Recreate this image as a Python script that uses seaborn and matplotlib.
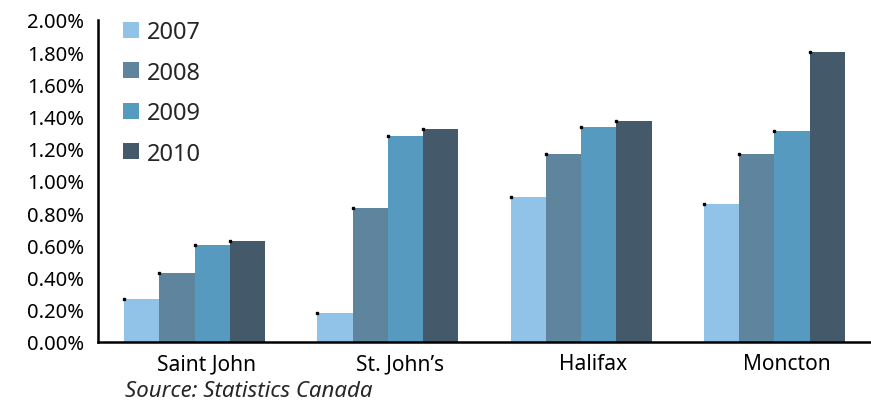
import matplotlib
matplotlib.use("Agg")
import matplotlib.pyplot as plt
import matplotlib.transforms as mtransforms
import seaborn as sns
import pandas as pd
from matplotlib.ticker import FuncFormatter, FixedLocator

cities = ["Saint John", "St. John\u2019s", "Halifax", "Moncton"]
years = ["2007", "2008", "2009", "2010"]
rate_2007 = [0.27, 0.18, 0.90, 0.855]
rate_2008 = [0.43, 0.83, 1.17, 1.17]
rate_2009 = [0.60, 1.28, 1.335, 1.31]
rate_2010 = [0.625, 1.32, 1.37, 1.80]
source_note = "Source: Statistics Canada"

colors = ["#91c3e8", "#5e849e", "#569abf", "#445a6b"]

rows = []
for yr, vals in zip(years, [rate_2007, rate_2008, rate_2009, rate_2010]):
    for c, v in zip(cities, vals):
        rows.append({"city": c, "year": yr, "rate": v})
df = pd.DataFrame(rows)

sns.set_style("white")
plt.rcParams["font.family"] = ["Noto Sans", "DejaVu Sans"]

W, H = 871, 402
fig = plt.figure(figsize=(W / 100, H / 100), dpi=100)
ax = fig.add_axes([98 / W, 59 / H, 773 / W, 322 / H])

sns.barplot(data=df, x="city", y="rate", hue="year", order=cities,
            hue_order=years, palette=colors, width=0.73, saturation=1,
            linewidth=0, ax=ax)

# small black marks at the top-left corner of each bar
for p in ax.patches:
    if p.get_height() > 0:
        ax.plot(p.get_x(), p.get_y() + p.get_height(), marker="s",
                ms=1.8, color="black", lw=0, clip_on=False, zorder=5)

ax.set_ylim(0, 2.0)
ax.set_xlim(-0.5, 3.5)
ax.yaxis.set_major_locator(FixedLocator([i * 0.2 for i in range(11)]))
ax.yaxis.set_major_formatter(FuncFormatter(lambda v, _: f"{v:.2f}%"))
ax.set_xticks([0, 1, 2, 3])
ax.set_xticklabels(cities)
ax.xaxis.set_minor_locator(FixedLocator([-0.5, 0.5, 1.5, 2.5, 3.5]))
ax.tick_params(axis="x", which="major", length=0, pad=8, labelsize=15,
               colors="black")
ax.tick_params(axis="x", which="minor", length=5, width=1.5, direction="out",
               color="black")
ax.tick_params(axis="y", length=6, width=1.5, direction="out", labelsize=14.5,
               colors="black", pad=4)
ax.set_xlabel("")
ax.set_ylabel("")

# category names sit a little right of the group centres
shift = mtransforms.ScaledTranslation(12 / 100, 0, fig.dpi_scale_trans)
for lbl in ax.get_xticklabels():
    lbl.set_transform(lbl.get_transform() + shift)

for s in ["top", "right"]:
    ax.spines[s].set_visible(False)
for s in ["left", "bottom"]:
    ax.spines[s].set_color("black")
    ax.spines[s].set_linewidth(1.8)

leg = ax.legend(loc="upper left", bbox_to_anchor=(0.032, 1.0), frameon=False,
                fontsize=17, handlelength=0.68, handleheight=0.68,
                labelspacing=0.70, handletextpad=0.35, borderaxespad=0,
                borderpad=0)
for h in leg.legend_handles:
    h.set_linewidth(0)

fig.text(125 / W, 1 - 392 / H, source_note, fontsize=16, style="italic",
         va="center", ha="left")

fig.savefig("out.png", dpi=100)
